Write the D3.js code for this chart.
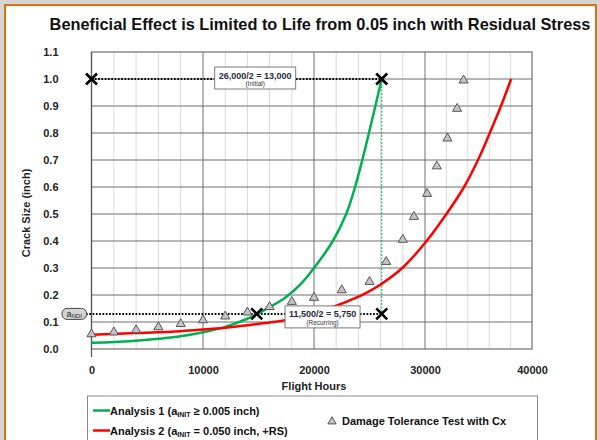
<!DOCTYPE html>
<html><head><meta charset="utf-8">
<script src="https://cdn.jsdelivr.net/npm/d3@7"></script>
<style>body{margin:0;background:#fff;} svg{display:block;font-family:Arial,"Liberation Sans",sans-serif;}</style>
</head><body><svg id="c" width="599" height="440"></svg>
<script>
const titleText = "Beneficial Effect is Limited to Life from 0.05 inch with Residual Stress";
const xLabel = "Flight Hours";
const yLabel = "Crack Size (inch)";
const xTickValues = [0, 10000, 20000, 30000, 40000];
const yTickValues = [0, 0.1, 0.2, 0.3, 0.4, 0.5, 0.6, 0.7, 0.8, 0.9, 1.0, 1.1];

// Analysis 1 (green)
const greenX = [0, 2000, 4000, 6000, 8000, 10000, 12000, 14000, 15000, 16000, 17400, 18800, 20000, 21700, 22900, 23700, 24350, 24950, 25530, 26100];
const greenY = [0.023, 0.026, 0.031, 0.038, 0.047, 0.062, 0.082, 0.112, 0.132, 0.155, 0.19, 0.24, 0.30, 0.40, 0.50, 0.60, 0.70, 0.80, 0.90, 1.0];
// Analysis 2 (red)
const redX = [0, 4000, 8000, 10000, 12000, 14000, 16000, 17400, 20000, 22000, 23800, 24800, 26000, 27950, 30150, 32000, 33650, 34950, 36050, 37100, 38050];
const redY = [0.053, 0.059, 0.066, 0.072, 0.079, 0.088, 0.098, 0.107, 0.135, 0.16, 0.19, 0.21, 0.239, 0.30, 0.40, 0.5, 0.6, 0.7, 0.8, 0.9, 1.0];
// Damage tolerance test (triangles)
const testX = [0, 2000, 4000, 6000, 8000, 10000, 12000, 14000, 16000, 18000, 20000, 22500, 25000, 26500, 28000, 29000, 30200, 31100, 32100, 33000, 33600];
const testY = [0.055, 0.062, 0.07, 0.081, 0.093, 0.107, 0.121, 0.136, 0.156, 0.175, 0.19, 0.218, 0.249, 0.323, 0.405, 0.49, 0.575, 0.677, 0.78, 0.89, 0.995];
// X markers
const crossX = [0, 26100, 14840, 26100];
const crossY = [1.0, 1.0, 0.13, 0.13];
const aNDI = 0.13;
const lifeX = 26100;
const annot1 = ["26,000/2 = 13,000", "(Initial)"];
const annot2 = ["11,500/2 = 5,750", "(Recurring)"];
const legend1 = ["Analysis 1 (a", "INIT", " \u2265 0.005 inch)"];
const legend2 = ["Analysis 2 (a", "INIT", " = 0.050 inch, +RS)"];
const legend3 = "Damage Tolerance Test with Cx";

const GREEN = "#00b050", RED = "#ff0000", ORANGE = "#e46c0a";
const svg = d3.select("#c");

// background & frame
svg.append("rect").attr("x",0).attr("y",0).attr("width",599).attr("height",440).attr("fill","#d6d6d6");
svg.append("rect").attr("x",5).attr("y",5).attr("width",591).attr("height",445)
  .attr("fill","#fff").attr("stroke",ORANGE).attr("stroke-width",2);

const x = d3.scaleLinear().domain([0,10000,20000,30000,40000]).range([91.5,203,314,425,532]);
const y = d3.scaleLinear().domain([0,1.1]).range([349,52]);
const X0 = x(0), X1 = x(40000), Y0 = y(0), Y1 = y(1.1);

// title
const title = svg.append("text").attr("x",320).attr("y",30).attr("text-anchor","middle")
  .attr("font-weight","bold").attr("font-size",14).attr("fill","#111").text(titleText);
const tw = title.node().getComputedTextLength();
title.attr("font-size", 14*541/tw);

// grid
const g = svg.append("g");
g.selectAll("line.minor").data(d3.range(2000,40000,2000).filter(v=>v%10000!==0)).join("line")
  .attr("x1",d=>x(d)).attr("x2",d=>x(d)).attr("y1",Y0).attr("y2",Y1)
  .attr("stroke","#dadada").attr("stroke-width",1);
g.selectAll("line.vmaj").data([10000,20000,30000]).join("line")
  .attr("x1",d=>x(d)).attr("x2",d=>x(d)).attr("y1",Y0).attr("y2",Y1)
  .attr("stroke","#6e6e6e").attr("stroke-width",1);
g.selectAll("line.hmaj").data(yTickValues.filter(v=>v>0 && v<1.05)).join("line")
  .attr("x1",X0).attr("x2",X1).attr("y1",d=>y(d)).attr("y2",d=>y(d))
  .attr("stroke","#6e6e6e").attr("stroke-width",1);
g.append("rect").attr("x",X0).attr("y",Y1).attr("width",X1-X0).attr("height",Y0-Y1)
  .attr("fill","none").attr("stroke","#6e6e6e").attr("stroke-width",1.2);
g.append("line").attr("x1",X0).attr("x2",X0).attr("y1",Y1).attr("y2",Y0+8).attr("stroke","#555").attr("stroke-width",1.2);

// axes labels via d3 axes
const yAxis = svg.append("g").attr("transform",`translate(${X0-34},0)`)
  .call(d3.axisLeft(y).tickValues(yTickValues).tickFormat(d3.format(".1f")).tickSize(0));
yAxis.select(".domain").remove();
yAxis.selectAll("text").attr("x",1).attr("font-size",11).attr("font-weight","bold").attr("fill","#222")
  .attr("font-family","Arial, 'Liberation Sans', sans-serif");
const xAxis = svg.append("g").attr("transform",`translate(0,${Y0+14})`)
  .call(d3.axisBottom(x).tickValues(xTickValues).tickFormat(d3.format("d")).tickSize(0));
xAxis.select(".domain").remove();
xAxis.selectAll("text").attr("font-size",11).attr("font-weight","bold").attr("fill","#222")
  .attr("font-family","Arial, 'Liberation Sans', sans-serif");

svg.append("text").attr("x",314).attr("y",390).attr("text-anchor","middle")
  .attr("font-size",11).attr("font-weight","bold").attr("fill","#222").text(xLabel);
svg.append("text").attr("transform","translate(30,213) rotate(-90)").attr("text-anchor","middle")
  .attr("font-size",11).attr("font-weight","bold").attr("fill","#222").text(yLabel);

// dotted reference lines
const dot = {"stroke":"#000","stroke-width":2,"stroke-dasharray":"1.7,1.6"};
function applyAttrs(sel, a){ for (const k in a) sel.attr(k,a[k]); return sel; }
applyAttrs(svg.append("line").attr("x1",x(0)).attr("x2",x(lifeX)).attr("y1",y(1.0)).attr("y2",y(1.0)), dot);
applyAttrs(svg.append("line").attr("x1",86).attr("x2",x(lifeX)).attr("y1",y(aNDI)).attr("y2",y(aNDI)), dot);
svg.append("line").attr("x1",x(lifeX)).attr("x2",x(lifeX)).attr("y1",y(1.0)).attr("y2",y(aNDI))
  .attr("stroke",GREEN).attr("stroke-width",1).attr("stroke-dasharray","2,1.5");

// curves
const line = d3.line().x(d=>x(d[0])).y(d=>y(d[1])).curve(d3.curveCatmullRom.alpha(0.5));
svg.append("path").datum(greenX.map((v,i)=>[v,greenY[i]])).attr("d",line)
  .attr("fill","none").attr("stroke",GREEN).attr("stroke-width",2.5);
svg.append("path").datum(redX.map((v,i)=>[v,redY[i]])).attr("d",line)
  .attr("fill","none").attr("stroke",RED).attr("stroke-width",2.5);

// triangles
const tri = d3.symbol().type(d3.symbolTriangle).size(36);
svg.selectAll("path.tri").data(testX.map((v,i)=>[v,testY[i]])).join("path")
  .attr("transform",d=>`translate(${x(d[0])},${y(d[1])})`).attr("d",tri)
  .attr("fill","#c4c4c4").attr("stroke","#555").attr("stroke-width",1);

// crosses
svg.selectAll("path.cross").data(crossX.map((v,i)=>[v,crossY[i]])).join("path")
  .attr("transform",d=>`translate(${x(d[0])},${y(d[1])})`)
  .attr("d","M-5.5,-5.5L5.5,5.5M-5.5,5.5L5.5,-5.5")
  .attr("fill","none").attr("stroke","#000").attr("stroke-width",2.6);

// aNDI label
svg.append("rect").attr("x",62).attr("y",y(aNDI)-5.5).attr("width",24.5).attr("height",11).attr("rx",5)
  .attr("fill","#d4d4d4").attr("stroke","#444").attr("stroke-width",1);
const an = svg.append("text").attr("x",74.2).attr("y",y(aNDI)+3).attr("text-anchor","middle")
  .attr("font-size",9).attr("fill","#222");
an.append("tspan").text("a");
an.append("tspan").attr("font-size",6).attr("dy",1.5).text("NDI");

// annotation boxes
function annot(cx, cy, w, h, lines){
  svg.append("rect").attr("x",cx-w/2).attr("y",cy-h/2).attr("width",w).attr("height",h)
    .attr("fill","#fff").attr("stroke","#7a7a7a").attr("stroke-width",1);
  svg.append("text").attr("x",cx).attr("y",cy+0.5).attr("text-anchor","middle")
    .attr("font-size",9).attr("font-weight","bold").attr("fill","#1f2a44").text(lines[0]);
  svg.append("text").attr("x",cx).attr("y",cy+8).attr("text-anchor","middle")
    .attr("font-size",6.5).attr("fill","#333").text(lines[1]);
}
annot(x(14700), y(1.0)-1, 81, 22, annot1);
annot(x(20770), y(aNDI)+3, 75, 22, annot2);

// legend
svg.append("rect").attr("x",87.5).attr("y",396).attr("width",450).attr("height",60)
  .attr("fill","#fff").attr("stroke","#8a8a8a").attr("stroke-width",1);
function legLine(yy, color, parts){
  svg.append("line").attr("x1",93).attr("x2",110).attr("y1",yy).attr("y2",yy).attr("stroke",color).attr("stroke-width",2.5);
  const t = svg.append("text").attr("x",110).attr("y",yy+4).attr("font-size",11).attr("font-weight","bold").attr("fill","#111");
  t.append("tspan").text(parts[0]);
  t.append("tspan").attr("font-size",7).attr("dy",2).text(parts[1]);
  t.append("tspan").attr("dy",-2).text(parts[2]);
}
legLine(410.5, GREEN, legend1);
legLine(430.5, RED, legend2);
svg.append("path").attr("transform","translate(332,421.5)").attr("d",d3.symbol().type(d3.symbolTriangle).size(30))
  .attr("fill","#c4c4c4").attr("stroke","#555").attr("stroke-width",1);
svg.append("text").attr("x",342).attr("y",425).attr("font-size",11).attr("font-weight","bold").attr("fill","#111").text(legend3);
</script></body></html>
